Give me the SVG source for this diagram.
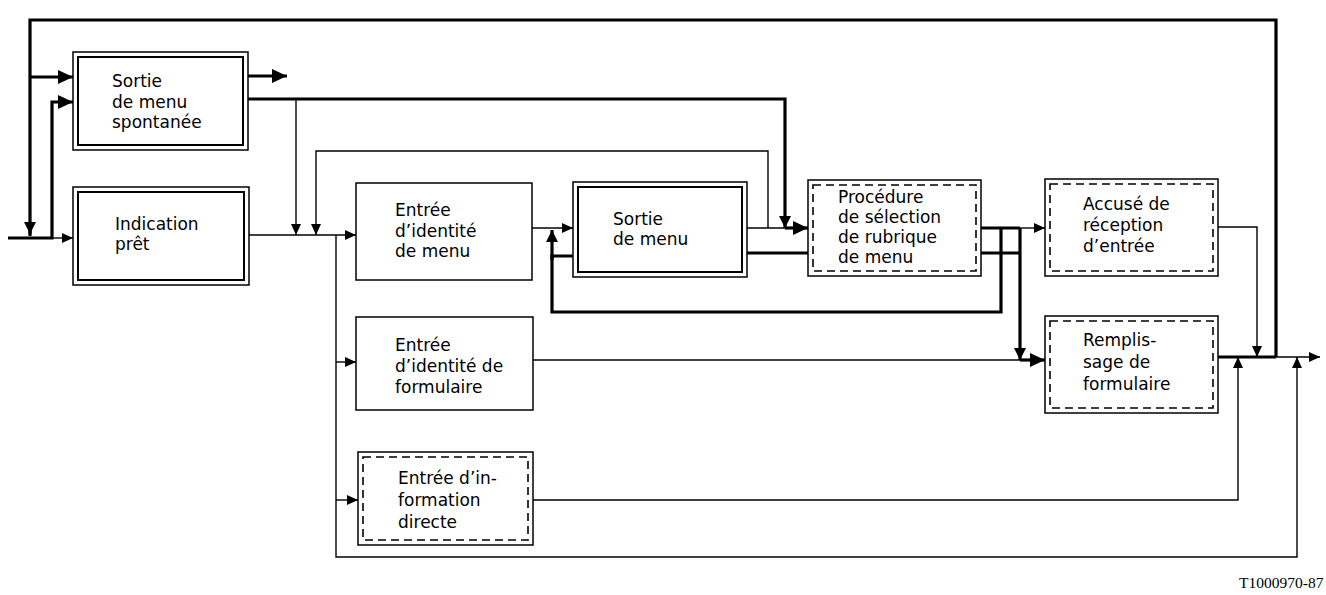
<svg xmlns="http://www.w3.org/2000/svg" width="1326" height="595" viewBox="0 0 1326 595">
<style>
.box{fill:#fff;stroke:#000;stroke-width:1.5}
.inner{fill:none;stroke:#000;stroke-width:2}
.dash{fill:none;stroke:#000;stroke-width:1.6;stroke-dasharray:8 5}
.thin{fill:none;stroke:#000;stroke-width:1.4}
.thick{fill:none;stroke:#000;stroke-width:3.2}
text{font-family:"DejaVu Sans",sans-serif;font-size:17px;fill:#000}
.ref{font-family:"Liberation Serif",serif;font-size:15.5px}
</style>
<defs>
<marker id="big" markerUnits="userSpaceOnUse" markerWidth="16" markerHeight="14" refX="15" refY="7" orient="auto"><path d="M0,0 L15,7 L0,14 z"/></marker>
<marker id="med" markerUnits="userSpaceOnUse" markerWidth="13" markerHeight="12" refX="12" refY="6" orient="auto"><path d="M0,0 L12,6 L0,12 z"/></marker>
<marker id="sm" markerUnits="userSpaceOnUse" markerWidth="11" markerHeight="10" refX="11" refY="5" orient="auto"><path d="M0,0 L11,5 L0,10 z"/></marker>
</defs>
<rect width="1326" height="595" fill="#fff"/>
<g id="connectors">
<path class="thick" d="M30,236 V20 H1276 V357"/>
<path class="thick" d="M30,226 V234" marker-end="url(#med)"/>
<path class="thick" d="M30,77 H73" marker-end="url(#big)"/>
<path class="thick" d="M8,238 H52 V102 H73" marker-end="url(#big)"/>
<path class="thin" d="M52,238 H73" marker-end="url(#sm)"/>
<path class="thick" d="M248,76 H287" marker-end="url(#big)"/>
<path class="thick" d="M248,99 H785 V228" marker-end="url(#med)"/>
<path class="thin" d="M296,99 V235" marker-end="url(#sm)"/>
<path class="thin" d="M249,235 H356" marker-end="url(#sm)"/>
<path class="thin" d="M768,228 V151 H316 V235" marker-end="url(#sm)"/>
<path class="thin" d="M336,235 V557 H1297 V357" marker-end="url(#sm)"/>
<path class="thin" d="M336,362 H356" marker-end="url(#sm)"/>
<path class="thin" d="M336,500 H358" marker-end="url(#sm)"/>
<path class="thin" d="M532,228 H573" marker-end="url(#sm)"/>
<path class="thin" d="M747,228 H785"/>
<path class="thick" d="M785,228 H808" marker-end="url(#big)"/>
<path class="thick" d="M747,253 H808"/>
<path class="thick" d="M1001,228 V312 H552 V256 H573"/>
<path class="thick" d="M552,260 V230" marker-end="url(#med)"/>
<path class="thick" d="M981,228 H1020"/>
<path class="thin" d="M1020,228 H1045" marker-end="url(#sm)"/>
<path class="thick" d="M981,253 H1020"/>
<path class="thick" d="M1020,228 V360" marker-end="url(#med)"/>
<path class="thick" d="M1020,360 H1045" marker-end="url(#big)"/>
<path class="thin" d="M533,360 H1020"/>
<path class="thin" d="M1218,227 H1257 V357" marker-end="url(#sm)"/>
<path class="thick" d="M1218,357 H1276"/>
<path class="thin" d="M1276,357 H1320" marker-end="url(#sm)"/>
<path class="thin" d="M533,500 H1238 V357" marker-end="url(#sm)"/>
</g>
<g id="sortie-spontanee">
<rect class="box" x="73" y="52" width="175" height="98"/>
<rect class="inner" x="78" y="57" width="165" height="88"/>
<text x="112" y="87">Sortie</text>
<text x="112" y="108">de menu</text>
<text x="112" y="128">spontanée</text>
</g>
<g id="indication-pret">
<rect class="box" x="73" y="187" width="176" height="98"/>
<rect class="inner" x="78" y="192" width="166" height="88"/>
<text x="115" y="230">Indication</text>
<text x="115" y="250">prêt</text>
</g>
<g id="entree-id-menu">
<rect class="box" x="356" y="183" width="176" height="97"/>
<text x="395" y="216">Entrée</text>
<text x="395" y="237">d’identité</text>
<text x="395" y="257">de menu</text>
</g>
<g id="sortie-menu">
<rect class="box" x="573" y="182" width="174" height="95"/>
<rect class="inner" x="578" y="187" width="164" height="85"/>
<text x="613" y="225">Sortie</text>
<text x="613" y="245">de menu</text>
</g>
<g id="procedure">
<rect class="box" x="808" y="180" width="173" height="96"/>
<rect class="dash" x="813" y="185" width="163" height="86"/>
<text x="838" y="203">Procédure</text>
<text x="838" y="223">de sélection</text>
<text x="838" y="243">de rubrique</text>
<text x="838" y="263">de menu</text>
</g>
<g id="accuse">
<rect class="box" x="1045" y="179" width="173" height="97"/>
<rect class="dash" x="1050" y="184" width="163" height="87"/>
<text x="1083" y="210">Accusé de</text>
<text x="1083" y="231">réception</text>
<text x="1083" y="252">d’entrée</text>
</g>
<g id="remplissage">
<rect class="box" x="1045" y="316" width="173" height="97"/>
<rect class="dash" x="1050" y="321" width="163" height="87"/>
<text x="1083" y="346">Remplis-</text>
<text x="1083" y="368">sage de</text>
<text x="1083" y="390">formulaire</text>
</g>
<g id="entree-id-formulaire">
<rect class="box" x="356" y="317" width="177" height="93"/>
<text x="395" y="351">Entrée</text>
<text x="395" y="372">d’identité de</text>
<text x="395" y="393">formulaire</text>
</g>
<g id="entree-info-directe">
<rect class="box" x="358" y="452" width="175" height="93"/>
<rect class="dash" x="363" y="457" width="165" height="83"/>
<text x="398" y="484">Entrée d’in-</text>
<text x="398" y="506">formation</text>
<text x="398" y="528">directe</text>
</g>
<text class="ref" x="1239" y="588">T1000970-87</text>
</svg>
